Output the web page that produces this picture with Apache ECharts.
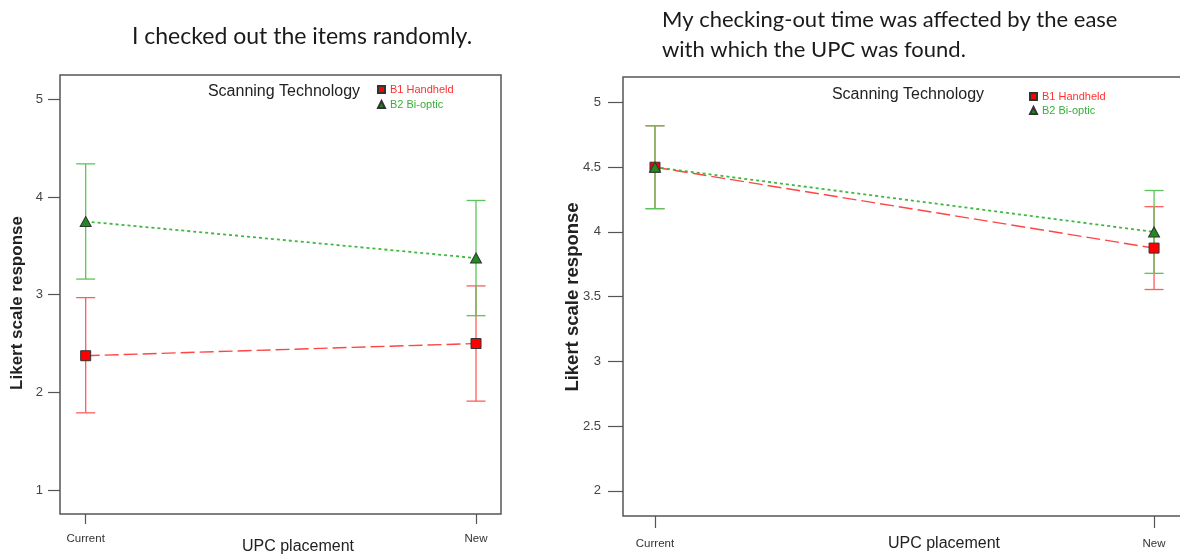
<!DOCTYPE html>
<html><head><meta charset="utf-8">
<script src="https://cdn.jsdelivr.net/npm/echarts@6/dist/echarts.min.js"></script>
<style>html,body{margin:0;padding:0;background:#fff}#c{width:1180px;height:559px}</style>
</head><body><div id="c"></div>
<script>
// ---- data ----
const categories = ['Current', 'New'];
const seriesNames = ['B1 Handheld', 'B2 Bi-optic'];
const leftTitle = 'I checked out the items randomly.';
const rightTitle = ['My checking-out time was affected by the ease', 'with which the UPC was found.'];
const legendTitle = 'Scanning Technology';
const yAxisName = 'Likert scale response';
const xAxisName = 'UPC placement';

// Left chart
const leftHandheldMean = [2.375, 2.5];
const leftHandheldLow  = [1.79, 1.91];
const leftHandheldHigh = [2.97, 3.09];
const leftBiopticMean  = [3.75, 3.375];
const leftBiopticLow   = [3.16, 2.785];
const leftBiopticHigh  = [4.34, 3.965];
const leftYTicks = [1, 2, 3, 4, 5];

// Right chart
const rightHandheldMean = [4.5, 3.875];
const rightHandheldLow  = [4.18, 3.555];
const rightHandheldHigh = [4.82, 4.195];
const rightBiopticMean  = [4.5, 4.0];
const rightBiopticLow   = [4.18, 3.68];
const rightBiopticHigh  = [4.82, 4.32];
const rightYTicks = [2, 2.5, 3, 3.5, 4, 4.5, 5];

// ---- styles ----
const RED = '#ff3030', RED_BAR = '#ff5c5c', RED_LINE = '#ff4545';
const GREEN = '#1e8c1e', GREEN_BAR = '#5cc45c', GREEN_LINE = '#40b840';
const AXIS = '#555';
const SANS = '"Liberation Sans", Arial, sans-serif';

const xIdx = categories.map((c, i) => i);
const pts = means => means.map((m, i) => [xIdx[i], m]);
const bars = (lo, hi) => lo.map((l, i) => [xIdx[i], l, hi[i]]);

function errRender(color) {
  return function (params, api) {
    const x = api.value(0), lo = api.value(1), hi = api.value(2);
    const a = api.coord([x, lo]), b = api.coord([x, hi]);
    const hw = 9.5;
    const st = { stroke: color, lineWidth: 1.3 };
    return { type: 'group', children: [
      { type: 'line', shape: { x1: a[0], y1: a[1], x2: b[0], y2: b[1] }, style: st },
      { type: 'line', shape: { x1: a[0] - hw, y1: a[1], x2: a[0] + hw, y2: a[1] }, style: st },
      { type: 'line', shape: { x1: b[0] - hw, y1: b[1], x2: b[0] + hw, y2: b[1] }, style: st }
    ]};
  };
}

function xAxisCfg(gi, min, max, margin, tickLen) {
  return {
    type: 'value', gridIndex: gi, min: min, max: max,
    axisLine: { show: false, onZero: false },
    splitLine: { show: false },
    axisTick: { show: true, length: tickLen, customValues: xIdx, lineStyle: { color: AXIS, width: 1.2 } },
    axisLabel: { show: true, customValues: xIdx, margin: margin, formatter: v => categories[Math.round(v)],
      fontFamily: SANS, fontSize: 11.5, color: '#333' }
  };
}
function yAxisCfg(gi, min, max, ticks, margin, tickLen) {
  return {
    type: 'value', gridIndex: gi, min: min, max: max,
    axisLine: { show: false, onZero: false },
    splitLine: { show: false },
    axisTick: { show: true, length: tickLen, customValues: ticks, lineStyle: { color: AXIS, width: 1.2 } },
    axisLabel: { show: true, customValues: ticks, margin: margin, formatter: v => String(v),
      fontFamily: SANS, fontSize: 13, color: '#444' }
  };
}

function lineSeries(name, gi, data, isRed) {
  return {
    type: 'line', name: name, xAxisIndex: gi, yAxisIndex: gi, data: data, z: 5,
    symbol: isRed ? 'rect' : 'triangle', symbolSize: isRed ? [10, 10] : [11, 10],
    itemStyle: { color: isRed ? '#ff0000' : GREEN, borderColor: '#333', borderWidth: 1 },
    lineStyle: isRed ? { color: RED_LINE, width: 1.4, type: [14, 5] } : { color: GREEN_LINE, width: 1.8, type: [3, 3] },
    emphasis: { disabled: true }, animation: false
  };
}
function barSeries(name, gi, data, color) {
  return {
    type: 'custom', name: name, xAxisIndex: gi, yAxisIndex: gi, data: data, z: 2,
    encode: { x: 0, y: [1, 2] }, renderItem: errRender(color), animation: false, silent: true
  };
}

function legendCfg(left, top, gap) {
  return {
    left: left, top: top, orient: 'vertical', padding: 0, itemWidth: 7, itemHeight: 7, itemGap: gap,
    selectedMode: false,
    textStyle: { fontFamily: SANS, fontSize: 11 },
    data: [
      { name: seriesNames[0], icon: 'rect', textStyle: { color: RED } },
      { name: seriesNames[1], icon: 'triangle', textStyle: { color: '#38b038' } }
    ]
  };
}

function txt(x, y, text, font, fill, align, rot) {
  return { type: 'text', x: x, y: y, rotation: rot || 0, silent: true,
    style: { text: text, font: font, fill: fill, align: align || 'center', verticalAlign: 'middle',
      textAlign: align || 'center', textVerticalAlign: 'middle' } };
}

const chart = echarts.init(document.getElementById('c'), null, { renderer: 'canvas' });
chart.setOption({
  backgroundColor: '#fff',
  animation: false,
  grid: [
    { left: 60, top: 75, width: 441, height: 439, show: true, borderColor: AXIS, borderWidth: 1.5,
      backgroundColor: 'transparent', outerBoundsMode: 'none', containLabel: false },
    { left: 623, top: 77, width: 563, height: 439, show: true, borderColor: AXIS, borderWidth: 1.5,
      backgroundColor: 'transparent', outerBoundsMode: 'none', containLabel: false }
  ],
  xAxis: [ xAxisCfg(0, -0.0658, 1.064, 19, 10), xAxisCfg(1, -0.0641, 1.064, 22, 12) ],
  yAxis: [ yAxisCfg(0, 0.754, 5.25, leftYTicks, 17, 12), yAxisCfg(1, 1.805, 5.197, rightYTicks, 22, 15) ],
  legend: [ legendCfg(377, 84, 4), legendCfg(1029, 91, 3) ],
  series: [
    barSeries('L B1 CI', 0, bars(leftHandheldLow, leftHandheldHigh), RED_BAR),
    barSeries('L B2 CI', 0, bars(leftBiopticLow, leftBiopticHigh), GREEN_BAR),
    lineSeries(seriesNames[0], 0, pts(leftHandheldMean), true),
    lineSeries(seriesNames[1], 0, pts(leftBiopticMean), false),
    barSeries('R B1 CI', 1, bars(rightHandheldLow, rightHandheldHigh), RED_BAR),
    barSeries('R B2 CI', 1, bars(rightBiopticLow, rightBiopticHigh), GREEN_BAR),
    lineSeries(seriesNames[0], 1, pts(rightHandheldMean), true),
    lineSeries(seriesNames[1], 1, pts(rightBiopticMean), false)
  ],
  graphic: [
    txt(302, 37, leftTitle, '23px Lato', '#1a1a1a'),
    txt(662, 20, rightTitle[0], '22px Lato', '#1a1a1a', 'left'),
    txt(662, 50, rightTitle[1], '22px Lato', '#1a1a1a', 'left'),
    txt(284, 92, legendTitle, '16px ' + SANS, '#222'),
    txt(908, 95, legendTitle, '16px ' + SANS, '#222'),
    txt(17, 303, yAxisName, 'bold 17px ' + SANS, '#222', 'center', Math.PI / 2),
    txt(573, 297, yAxisName, 'bold 18.5px ' + SANS, '#222', 'center', Math.PI / 2),
    txt(298, 547, xAxisName, '16px ' + SANS, '#222'),
    txt(944, 544, xAxisName, '16px ' + SANS, '#222')
  ]
});
</script></body></html>
